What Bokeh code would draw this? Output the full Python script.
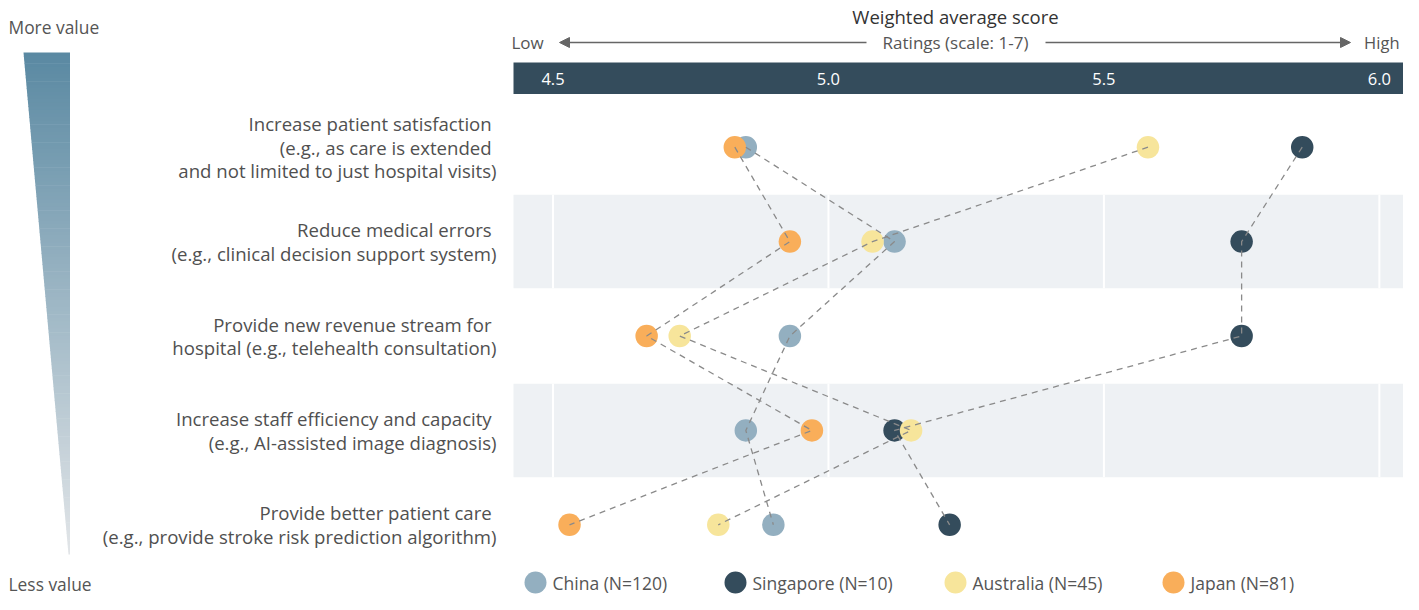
from bokeh.plotting import figure
from bokeh.models import Range1d, Arrow, NormalHead
from bokeh.core.properties import value
from bokeh.embed import file_html
from bokeh.resources import INLINE

# ---------------- data ----------------
categories = [
    "Increase patient satisfaction \n(e.g., as care is extended \nand not limited to just hospital visits)",
    "Reduce medical errors \n(e.g., clinical decision support system)",
    "Provide new revenue stream for \nhospital (e.g., telehealth consultation)",
    "Increase staff efficiency and capacity \n(e.g., AI-assisted image diagnosis)",
    "Provide better patient care \n(e.g., provide stroke risk prediction algorithm)",
]
countries = ["China (N=120)", "Singapore (N=10)", "Australia (N=45)", "Japan (N=81)"]
china = [4.85, 5.12, 4.93, 4.85, 4.90]
singapore = [5.86, 5.75, 5.75, 5.12, 5.22]
australia = [5.58, 5.08, 4.73, 5.15, 4.80]
japan = [4.83, 4.93, 4.67, 4.97, 4.53]
series = [china, singapore, australia, japan]
colors = ["#93afc0", "#344c5c", "#f7e59b", "#f9ae5a"]
tick_values = [4.5, 5.0, 5.5, 6.0]
tick_labels = ["4.5", "5.0", "5.5", "6.0"]

# ---------------- layout helpers (canvas px -> data) ----------------
PX_PER_UNIT = 550.9
X0 = 552.5       # canvas x of 4.5
ROW0 = 146.7     # canvas y of row 0
ROW_H = 94.4


def X(px):
    return 4.5 + (px - X0) / PX_PER_UNIT


def Y(py):
    return (py - ROW0) / ROW_H


W, H = 1403, 594
p = figure(width=W, height=H, output_backend="svg", toolbar_location=None,
           x_range=Range1d(X(0), X(W)), y_range=Range1d(Y(H), Y(0)),
           min_border=0, outline_line_color=None)
p.axis.visible = False
p.grid.visible = False
p.background_fill_color = "white"

FONT = value("'Open Sans', 'Noto Sans', sans-serif")
GREY = "#555555"

n = len(categories)
rows = list(range(n))

# shaded bands on alternate rows
band_rows = [r for r in rows if r % 2 == 1]
p.quad(left=X(513), right=X(1403), bottom=[r - 0.495 for r in band_rows],
       top=[r + 0.495 for r in band_rows], fill_color="#eef1f4", line_color=None)
# white gridlines over the bands
for r in band_rows:
    p.segment(x0=tick_values, x1=tick_values, y0=[r - 0.495] * 4, y1=[r + 0.495] * 4,
              line_color="white", line_width=2)

# header bar with tick labels
p.quad(left=X(513), right=X(1403), bottom=Y(93.5), top=Y(62), fill_color="#344c5c", line_color=None)
p.text(x=tick_values, y=[Y(78)] * 4, text=tick_labels, text_font=FONT, text_font_size="16.5px",
       text_color="white", text_align="center", text_baseline="middle")

# header titles
p.text(x=[X(955)], y=[Y(16)], text=["Weighted average score"], text_font=FONT, text_font_size="18.5px",
       text_color="#333333", text_align="center", text_baseline="middle")
p.text(x=[X(955)], y=[Y(42)], text=["Ratings (scale: 1-7)"], text_font=FONT, text_font_size="17px",
       text_color=GREY, text_align="center", text_baseline="middle")
p.text(x=[X(511)], y=[Y(42)], text=["Low"], text_font=FONT, text_font_size="17px",
       text_color=GREY, text_align="left", text_baseline="middle")
p.text(x=[X(1399)], y=[Y(42)], text=["High"], text_font=FONT, text_font_size="16.5px",
       text_color=GREY, text_align="right", text_baseline="middle")
p.add_layout(Arrow(end=NormalHead(size=10, fill_color="#666666", line_color="#666666"),
                   x_start=X(866), y_start=Y(42), x_end=X(559), y_end=Y(42),
                   line_color="#666666", line_width=1.3))
p.add_layout(Arrow(end=NormalHead(size=10, fill_color="#666666", line_color="#666666"),
                   x_start=X(1045), y_start=Y(42), x_end=X(1350), y_end=Y(42),
                   line_color="#666666", line_width=1.3))

# gradient wedge on the left
top_c = (0x5a, 0x89, 0xa2)
bot_c = (0xe2, 0xe5, 0xe8)
y_top, y_bot = 52.0, 554.0
xl_top, xl_bot, xr = 23.0, 68.0, 69.5
N = 140
xs, ys, cs = [], [], []
for i in range(N):
    a = y_top + (y_bot - y_top) * i / N
    b = min(y_top + (y_bot - y_top) * (i + 1) / N + 0.6, y_bot)
    la = xl_top + (xl_bot - xl_top) * (a - y_top) / (y_bot - y_top)
    lb = xl_top + (xl_bot - xl_top) * (b - y_top) / (y_bot - y_top)
    xs.append([X(la), X(xr), X(xr), X(lb)])
    ys.append([Y(a), Y(a), Y(b), Y(b)])
    t = i / (N - 1)
    c = tuple(int(round(top_c[k] + (bot_c[k] - top_c[k]) * t)) for k in range(3))
    cs.append("#%02x%02x%02x" % c)
p.patches(xs=xs, ys=ys, fill_color=cs, line_color=None)
p.text(x=[X(8)], y=[Y(26)], text=["More value"], text_font=FONT, text_font_size="17.4px",
       text_color=GREY, text_align="left", text_baseline="middle")
p.text(x=[X(8)], y=[Y(583)], text=["Less value"], text_font=FONT, text_font_size="17.4px",
       text_color=GREY, text_align="left", text_baseline="middle")

# category labels
p.text(x=[X(496)] * n, y=rows, text=categories, text_font=FONT, text_font_size="18.6px",
       text_color="#505050", text_align="right", text_baseline="middle", text_line_height=0.95)

# points, then dashed connectors on top
for vals, col in zip(series, colors):
    p.scatter(x=vals, y=rows, marker="circle", size=22.5, fill_color=col, line_color=None)
for vals in series:
    p.line(x=vals, y=rows, line_color="#8a8a8a", line_width=1.3, line_dash="6 5")

# legend
leg_x = [535, 735, 955, 1173]
ly = Y(582)
p.scatter(x=[X(v) for v in leg_x], y=[ly] * 4, marker="circle", size=22, fill_color=colors, line_color=None)
p.text(x=[X(v + 17) for v in leg_x], y=[ly] * 4, text=countries, text_font=FONT, text_font_size="17.5px",
       text_color=GREY, text_align="left", text_baseline="middle")

open("out.html", "w").write(file_html(p, INLINE))
